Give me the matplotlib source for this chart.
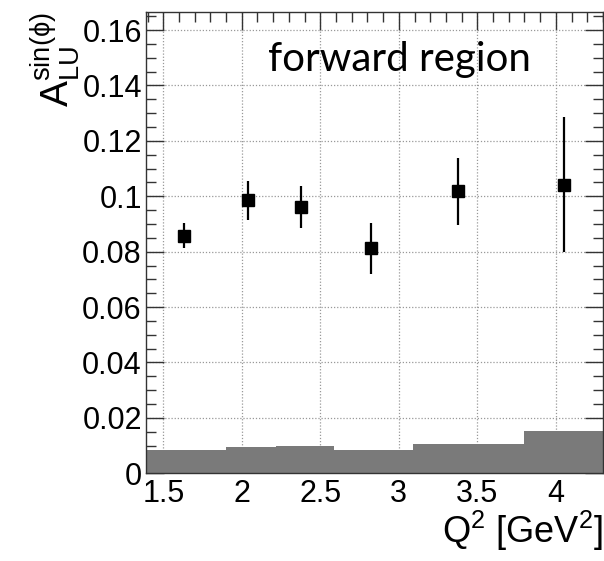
import numpy as np
import matplotlib.pyplot as plt
from matplotlib.ticker import MultipleLocator

plt.rcParams['font.family'] = ['Liberation Sans', 'DejaVu Sans']
plt.rcParams['mathtext.fontset'] = 'custom'
plt.rcParams['mathtext.rm'] = 'Liberation Sans'
plt.rcParams['mathtext.it'] = 'Liberation Sans'

# Beam-spin asymmetry vs Q^2, forward region
q2 = [1.63, 2.04, 2.38, 2.82, 3.38, 4.05]
alu = [0.0858, 0.0985, 0.0962, 0.0812, 0.1018, 0.1042]
alu_err = [0.0045, 0.0070, 0.0075, 0.0093, 0.0120, 0.0245]

# Systematic uncertainty band per Q^2 bin
sys_edges = [1.39, 1.90, 2.22, 2.59, 3.09, 3.80, 4.30]
sys_err = [0.0084, 0.0096, 0.0099, 0.0084, 0.0107, 0.0153]

xticks = [1.5, 2, 2.5, 3, 3.5, 4]
xticklabels = ['1.5', '2', '2.5', '3', '3.5', '4']
yticks = [0, 0.02, 0.04, 0.06, 0.08, 0.1, 0.12, 0.14, 0.16]
yticklabels = ['0', '0.02', '0.04', '0.06', '0.08', '0.1', '0.12', '0.14', '0.16']

fig = plt.figure(figsize=(6.04, 5.61), dpi=100)
ax = fig.add_axes([0.2417, 0.1563, 0.7566, 0.8223])

ax.stairs(sys_err, sys_edges, fill=True, color='#7a7a7a', lw=0, zorder=2)

ax.errorbar(q2, alu, yerr=alu_err, fmt='s', color='black', ms=8.5,
            elinewidth=1.6, capsize=0, zorder=3)

ax.set_xlim(1.39, 4.30)
ax.set_ylim(0, 0.1665)

ax.set_xticks(xticks)
ax.set_xticklabels(xticklabels)
ax.xaxis.set_minor_locator(MultipleLocator(0.1))
ax.set_yticks(yticks)
ax.set_yticklabels(yticklabels)
ax.yaxis.set_minor_locator(MultipleLocator(0.005))

ax.tick_params(which='both', direction='in', top=True, right=True,
               labelsize=22, color='#333333')
ax.tick_params(which='major', length=13, width=1)
ax.tick_params(which='minor', length=7, width=1)
ax.tick_params(axis='x', pad=4)
ax.tick_params(axis='y', pad=3)

ax.grid(True, which='major', linestyle=(0, (1, 1.5)), color='#999999', lw=0.9, zorder=1)
for s in ax.spines.values():
    s.set_color('#333333')
    s.set_linewidth(1)

ax.set_xlabel(r'Q$^{2}$ [GeV$^{2}$]', fontsize=26, loc='right', labelpad=0)
ax.set_ylabel(r'A$_{\mathrm{LU}}^{\sin(\phi)}$', fontsize=28, loc='top', labelpad=0)

ax.text(0.555, 0.896, 'forward region', transform=ax.transAxes,
        fontsize=29, family='Lato', ha='center', va='center')

fig.savefig('out.png', dpi=100)
